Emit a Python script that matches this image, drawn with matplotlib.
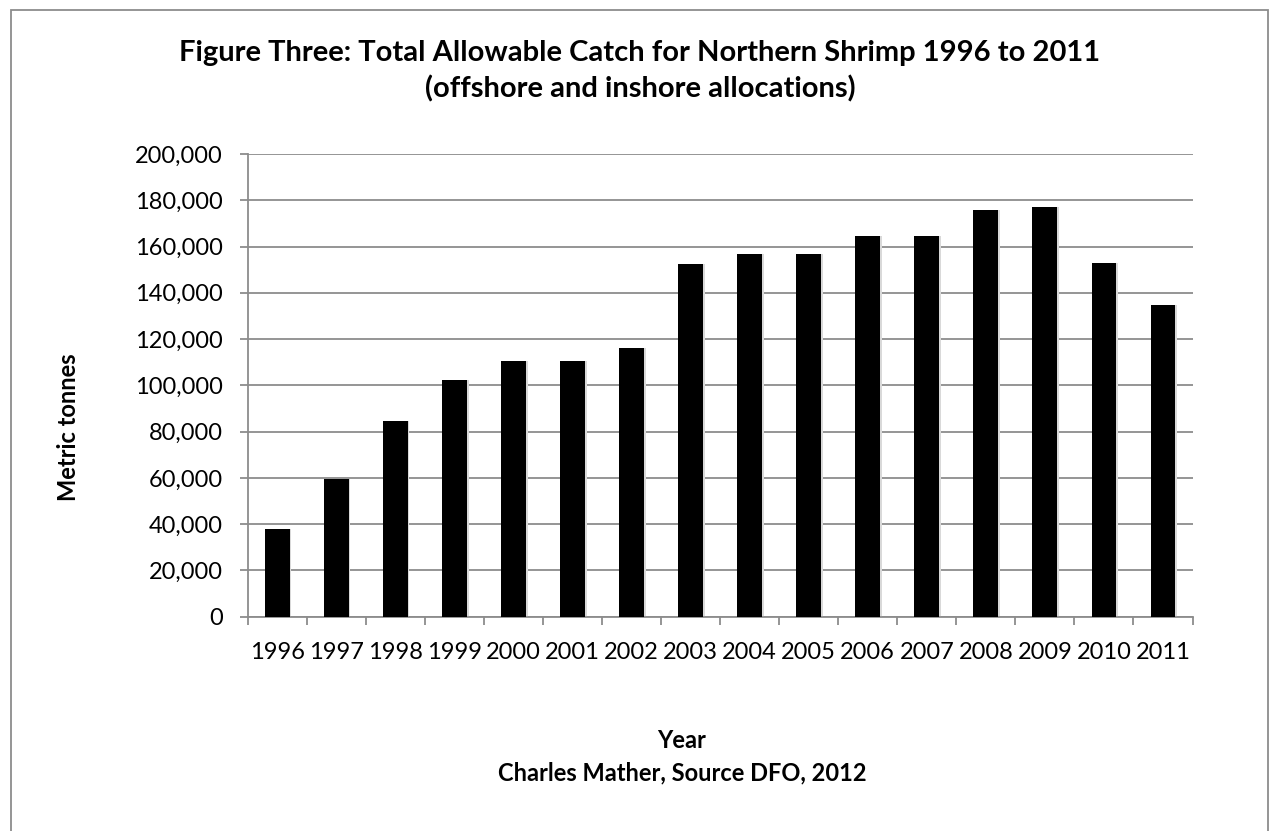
import matplotlib
matplotlib.use("Agg")
import matplotlib.pyplot as plt
import matplotlib.patches as mpatches
from matplotlib.ticker import FuncFormatter
import numpy as np

plt.rcParams['font.family'] = ['Lato', 'DejaVu Sans']

# values
years = ["1996", "1997", "1998", "1999", "2000", "2001", "2002", "2003",
         "2004", "2005", "2006", "2007", "2008", "2009", "2010", "2011"]
tac_tonnes = [37900, 59400, 84700, 102300, 110400, 110400, 116000, 152400,
              156600, 156600, 164600, 164600, 175900, 177200, 153000, 134900]
y_ticks = [0, 20000, 40000, 60000, 80000, 100000, 120000, 140000, 160000, 180000, 200000]

title = "Figure Three: Total Allowable Catch for Northern Shrimp 1996 to 2011\n(offshore and inshore allocations)"
x_title = "Year"
source_note = "Charles Mather, Source DFO, 2012"
y_title = "Metric tonnes"

grid_col = "#8c8c8c"

fig = plt.figure(figsize=(12.69, 8.31), dpi=100)
fig.patch.set_facecolor("white")

# chart border like the excel chart area
border = mpatches.Rectangle((11 / 1269, -0.02), 1257 / 1269, (831 - 9.5) / 831 + 0.02,
                            transform=fig.transFigure, fill=False, edgecolor=grid_col,
                            linewidth=1.3)
fig.patches.append(border)

ax = fig.add_axes([247.7 / 1269, 214.3 / 831, 944.8 / 1269, 462.7 / 831])

x = np.arange(len(years))
# faint shadow behind the bars, then the bars
ax.bar(x + 0.02, tac_tonnes, width=0.44, color="#d9d9d9", zorder=2)
ax.bar(x, tac_tonnes, width=0.42, color="black", zorder=3)

ax.set_xlim(-0.5, len(years) - 0.5)
ax.set_ylim(0, 200000)
ax.set_yticks(y_ticks)
ax.yaxis.set_major_formatter(FuncFormatter(lambda v, p: "{:,}".format(int(v))))
ax.grid(axis="y", color=grid_col, linewidth=1.3, zorder=0)
ax.set_axisbelow(True)

ax.set_xticks(x)
ax.set_xticklabels(years)
ax.set_xticks(np.arange(len(years) + 1) - 0.5, minor=True)
ax.tick_params(axis="x", which="major", length=0, pad=18.5, labelsize=17)
ax.tick_params(axis="x", which="minor", length=6, width=1.3, color=grid_col, direction="out")
ax.tick_params(axis="y", length=6, width=1.3, color=grid_col, pad=12, labelsize=17)

for side in ["top", "right"]:
    ax.spines[side].set_visible(False)
for side in ["left", "bottom"]:
    ax.spines[side].set_color(grid_col)
    ax.spines[side].set_linewidth(1.3)

fig.text(640 / 1269, 1 - 71 / 831, title, ha="center", va="center", fontsize=21,
         fontweight="bold", linespacing=1.42)
fig.text(68 / 1269, 1 - 427 / 831, y_title, ha="center", va="center", rotation=90,
         fontsize=17, fontweight="bold")
fig.text(682 / 1269, 1 - 741 / 831, x_title, ha="center", va="center", fontsize=17,
         fontweight="bold")
fig.text(682 / 1269, 1 - 773 / 831, source_note, ha="center", va="center", fontsize=17,
         fontweight="bold")

fig.savefig("out.png", dpi=100, facecolor="white")
